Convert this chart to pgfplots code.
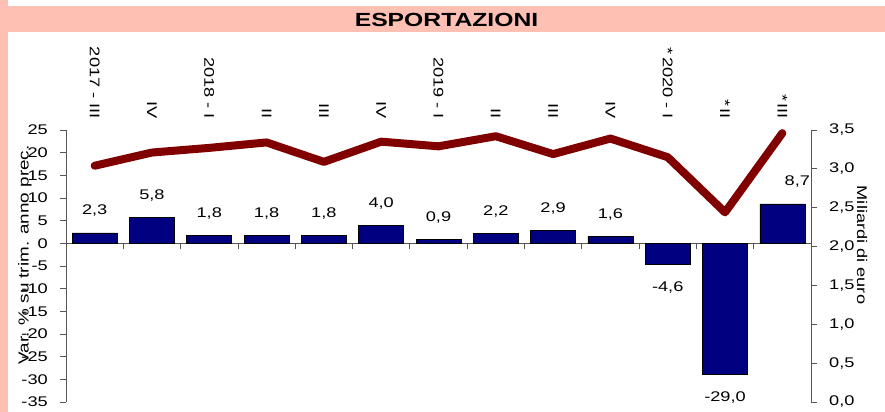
\documentclass[border=0pt]{standalone}
\usepackage{pgfplots}
\pgfplotsset{compat=1.18}
\usepackage{fontspec}
\setmainfont{Liberation Sans}[FakeStretch=1.3]
\definecolor{pinkbg}{HTML}{FFC0B4}
\definecolor{barnavy}{HTML}{000080}
\definecolor{linered}{HTML}{800000}
\definecolor{axgray}{HTML}{555555}
\begin{document}
\begin{tikzpicture}[font=\fontsize{14bp}{17bp}\selectfont]
\path[use as bounding box] (0,0) rectangle (885bp,412bp);
\fill[pinkbg] (0,0) rectangle (8bp,412bp);
\fill[pinkbg] (0,380bp) rectangle (885bp,406bp);
\node[font=\fontsize{19bp}{22bp}\selectfont\bfseries, anchor=base, inner sep=0pt] at (446.5bp,385.3bp) {ESPORTAZIONI};

% bars, left axis
\begin{axis}[
  at={(66bp,10bp)}, anchor=south west, scale only axis,
  width=745bp, height=272bp,
  xmin=-0.5, xmax=12.5, ymin=-35, ymax=25,
  axis y line*=left, axis x line*=middle,
  axis line style={axgray, line width=0.8bp},
  tick style={axgray, line width=0.8bp},
  tick align=outside, major tick length=6bp,
  xtick={-0.5,0.5,...,12.5}, xticklabels={},
  ytick={-35,-30,...,25},
  yticklabel style={inner sep=0pt},
  yticklabel shift=12bp,
  /pgf/number format/assume math mode=true,
  ylabel={Var. \% su trim. anno prec.},
  every axis y label/.style={at={(rel axis cs:0,0.5)}, xshift=-41bp, yshift=11bp, rotate=90, anchor=center, font=\fontsize{14.5bp}{17bp}\selectfont},
  clip=false,
]
\addplot[ybar, bar width=0.785, bar shift=0pt, fill=barnavy, draw=black, line width=0.6bp,
  visualization depends on={rawy \as \ry},
  visualization depends on={rawx \as \rx},
  nodes near coords={\pgfmathprintnumber[use comma,fixed,fixed zerofill,precision=1,assume math mode=true]{\pgfplotspointmeta}},
  nodes near coords align=center,
  every node near coord/.append style={black, anchor=center, yshift={\ry<0 ? -23 : 22}, xshift={\rx>11.5 ? 15 : 0}},
] coordinates {
(0,2.3) (1,5.8) (2,1.8) (3,1.8) (4,1.8) (5,4.0) (6,0.9) (7,2.2) (8,2.9) (9,1.6) (10,-4.6) (11,-29.0) (12,8.7)
};
\end{axis}

% line, right axis
\begin{axis}[
  at={(66bp,10bp)}, anchor=south west, scale only axis,
  width=745bp, height=272bp,
  xmin=-0.5, xmax=12.5, ymin=0, ymax=3.5,
  axis y line*=right, axis x line*=top,
  x axis line style={draw=none},
  y axis line style={axgray, line width=0.8bp},
  ytick style={axgray, line width=0.8bp},
  xtick style={draw=none},
  tick align=outside, major tick length=6bp,
  xtick={0,...,12},
  xticklabels={2017 - III,IV,2018 - I,II,III,IV,2019 - I,II,III,IV,*\,2020 - I,*\,II,*\,III},
  xticklabel style={rotate=-90, anchor=east, inner sep=0pt},
  xticklabel shift=5bp,
  ytick={0,0.5,...,3.5},
  yticklabel style={inner sep=0pt, /pgf/number format/.cd, use comma, fixed, fixed zerofill, precision=1, assume math mode=true},
  yticklabel shift=12bp,
  ylabel={Miliardi di euro},
  every axis y label/.style={at={(rel axis cs:1,0.5)}, xshift=51bp, yshift=21bp, rotate=-90, anchor=center},
  clip=false,
]
\addplot[color=linered, line width=8bp, line cap=round, line join=round, mark=none] coordinates {
(0,3.04) (1,3.21) (2,3.27) (3,3.34) (4,3.09) (5,3.35) (6,3.29) (7,3.42) (8,3.19) (9,3.39) (10,3.15) (11,2.44) (12,3.46)
};
\end{axis}
\end{tikzpicture}
\end{document}
